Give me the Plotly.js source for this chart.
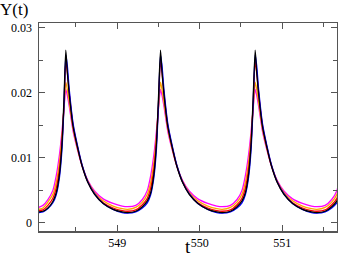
<!DOCTYPE html>
<html>
<head>
<meta charset="utf-8">
<script src="https://cdn.plot.ly/plotly-3.0.1.min.js"></script>
<style>
  html, body { margin: 0; padding: 0; background: #fff; }
  #chart { width: 338px; height: 257px; }
</style>
</head>
<body>
<div id="chart"></div>
<script>
// time samples (denser around the three spikes)
var t = [
  548.05, 548.10, 548.16, 548.22, 548.26, 548.30, 548.33, 548.355, 548.377, 548.395,
  548.42, 548.465, 548.515, 548.575, 548.645, 548.725, 548.83, 548.95, 549.06,
  549.125, 549.225, 549.305, 549.365, 549.405, 549.445, 549.475, 549.50, 549.525, 549.543,
  549.568, 549.613, 549.663, 549.723, 549.793, 549.873, 549.978, 550.098, 550.208,
  550.273, 550.373, 550.453, 550.513, 550.553, 550.593, 550.623, 550.648, 550.673, 550.691,
  550.716, 550.761, 550.811, 550.871, 550.941, 551.021, 551.126, 551.246, 551.356,
  551.421, 551.521, 551.601, 551.664, 551.70
];

var yBlack = [
  0.0017, 0.0018, 0.0023, 0.0033, 0.0046, 0.0075, 0.0120, 0.0190, 0.0265, 0.0232,
  0.0196, 0.0148, 0.0118, 0.0087, 0.0062, 0.0044, 0.0030, 0.0021, 0.0017,
  0.0016, 0.0018, 0.0025, 0.0034, 0.0046, 0.0075, 0.0120, 0.0190, 0.0265, 0.0232,
  0.0196, 0.0148, 0.0118, 0.0087, 0.0062, 0.0044, 0.0030, 0.0021, 0.0017,
  0.0016, 0.0018, 0.0025, 0.0034, 0.0046, 0.0075, 0.0120, 0.0190, 0.0265, 0.0232,
  0.0196, 0.0148, 0.0118, 0.0087, 0.0062, 0.0044, 0.0030, 0.0021, 0.0017,
  0.0016, 0.0018, 0.0025, 0.0034, 0.0046
];

var yBlue = [
  0.0016, 0.0017, 0.0022, 0.0031, 0.0043, 0.0070, 0.0112, 0.0180, 0.0258, 0.0242,
  0.0203, 0.0153, 0.0121, 0.0089, 0.0063, 0.0045, 0.0030, 0.0021, 0.0016,
  0.0015, 0.0017, 0.0023, 0.0031, 0.0043, 0.0070, 0.0112, 0.0180, 0.0258, 0.0242,
  0.0203, 0.0153, 0.0121, 0.0089, 0.0063, 0.0045, 0.0030, 0.0021, 0.0016,
  0.0015, 0.0017, 0.0023, 0.0031, 0.0043, 0.0070, 0.0112, 0.0180, 0.0258, 0.0242,
  0.0203, 0.0153, 0.0121, 0.0089, 0.0063, 0.0045, 0.0030, 0.0021, 0.0016,
  0.0015, 0.0017, 0.0023, 0.0031, 0.0043
];

var yRed = [
  0.0019, 0.0020, 0.0027, 0.0038, 0.0053, 0.0083, 0.0124, 0.0180, 0.0249, 0.0232,
  0.0198, 0.0150, 0.0119, 0.0088, 0.0063, 0.0045, 0.0031, 0.0023, 0.0019,
  0.0018, 0.0020, 0.0028, 0.0038, 0.0053, 0.0083, 0.0124, 0.0180, 0.0249, 0.0232,
  0.0198, 0.0150, 0.0119, 0.0088, 0.0063, 0.0045, 0.0031, 0.0023, 0.0019,
  0.0018, 0.0020, 0.0028, 0.0038, 0.0053, 0.0083, 0.0124, 0.0180, 0.0249, 0.0232,
  0.0198, 0.0150, 0.0119, 0.0088, 0.0063, 0.0045, 0.0031, 0.0023, 0.0019,
  0.0018, 0.0020, 0.0028, 0.0038, 0.0053
];

var yOrange = [
  0.0021, 0.0023, 0.0032, 0.0044, 0.0062, 0.0094, 0.0132, 0.0176, 0.0216, 0.0205,
  0.0184, 0.0145, 0.0116, 0.0088, 0.0064, 0.0047, 0.0034, 0.0026, 0.0022,
  0.0021, 0.0024, 0.0032, 0.0044, 0.0062, 0.0094, 0.0132, 0.0176, 0.0216, 0.0205,
  0.0184, 0.0145, 0.0116, 0.0088, 0.0064, 0.0047, 0.0034, 0.0026, 0.0022,
  0.0021, 0.0024, 0.0032, 0.0044, 0.0062, 0.0094, 0.0132, 0.0176, 0.0216, 0.0205,
  0.0184, 0.0145, 0.0116, 0.0088, 0.0064, 0.0047, 0.0034, 0.0026, 0.0022,
  0.0021, 0.0024, 0.0032, 0.0044, 0.0062
];

var yMagenta = [
  0.0024, 0.0027, 0.0036, 0.0050, 0.0072, 0.0105, 0.0140, 0.0175, 0.0205, 0.0196,
  0.0178, 0.0141, 0.0114, 0.0087, 0.0065, 0.0049, 0.0037, 0.0030, 0.0026,
  0.0025, 0.0027, 0.0036, 0.0050, 0.0072, 0.0105, 0.0140, 0.0175, 0.0205, 0.0196,
  0.0178, 0.0141, 0.0114, 0.0087, 0.0065, 0.0049, 0.0037, 0.0030, 0.0026,
  0.0025, 0.0027, 0.0036, 0.0050, 0.0072, 0.0105, 0.0140, 0.0175, 0.0205, 0.0196,
  0.0178, 0.0141, 0.0114, 0.0087, 0.0065, 0.0049, 0.0037, 0.0030, 0.0026,
  0.0025, 0.0027, 0.0036, 0.0050, 0.0072
];

var seriesNames = ['magenta', 'orange', 'red', 'blue', 'black'];
var seriesData = [yMagenta, yOrange, yRed, yBlue, yBlack];
var seriesColors = ['#ff00ff', '#ffa500', '#ff0000', '#0000ff', '#000000'];

var traces = [];
for (var i = 0; i < seriesData.length; i++) {
  traces.push({
    x: t,
    y: seriesData[i],
    type: 'scatter',
    mode: 'lines',
    name: seriesNames[i],
    line: {color: seriesColors[i], width: 1.3, shape: 'spline', smoothing: 0.6}
  });
}

var serif = 'Liberation Serif, Times New Roman, serif';

var layout = {
  width: 338,
  height: 257,
  margin: {l: 39, r: 1, t: 23, b: 26},
  paper_bgcolor: '#fff',
  plot_bgcolor: '#fff',
  showlegend: false,
  font: {family: serif, size: 12, color: '#000'},
  xaxis: {
    range: [548.052, 551.665],
    dtick: 1,
    tick0: 549,
    ticks: 'inside',
    ticklen: 6,
    tickcolor: '#555',
    minor: {dtick: 0.5, ticks: 'inside', ticklen: 4, tickcolor: '#555'},
    showgrid: false,
    zeroline: false,
    showline: true,
    linecolor: '#555',
    linewidth: 1.5,
    mirror: 'allticks',
    tickfont: {family: serif, size: 12}
  },
  yaxis: {
    range: [-0.00123, 0.03068],
    dtick: 0.01,
    tick0: 0,
    ticks: 'inside',
    ticklen: 6,
    tickcolor: '#555',
    minor: {dtick: 0.005, ticks: 'inside', ticklen: 4, tickcolor: '#555'},
    showgrid: false,
    zeroline: false,
    showline: true,
    linecolor: '#555',
    linewidth: 1.5,
    mirror: 'allticks',
    tickfont: {family: serif, size: 12},
    ticksuffix: ' '
  },
  annotations: [{
    text: 'Y(t)',
    xref: 'paper', yref: 'paper',
    x: 0, y: 1,
    xshift: -40, yshift: 24,
    xanchor: 'left', yanchor: 'top',
    showarrow: false,
    borderpad: 0,
    font: {family: serif, size: 17, color: '#000'}
  }, {
    text: 't',
    xref: 'paper', yref: 'paper',
    x: 0.5, y: 0,
    yshift: -27,
    xanchor: 'center', yanchor: 'bottom',
    showarrow: false,
    borderpad: 0,
    font: {family: serif, size: 19, color: '#000'}
  }]
};

Plotly.newPlot('chart', traces, layout, {displayModeBar: false, staticPlot: true});
</script>
</body>
</html>
